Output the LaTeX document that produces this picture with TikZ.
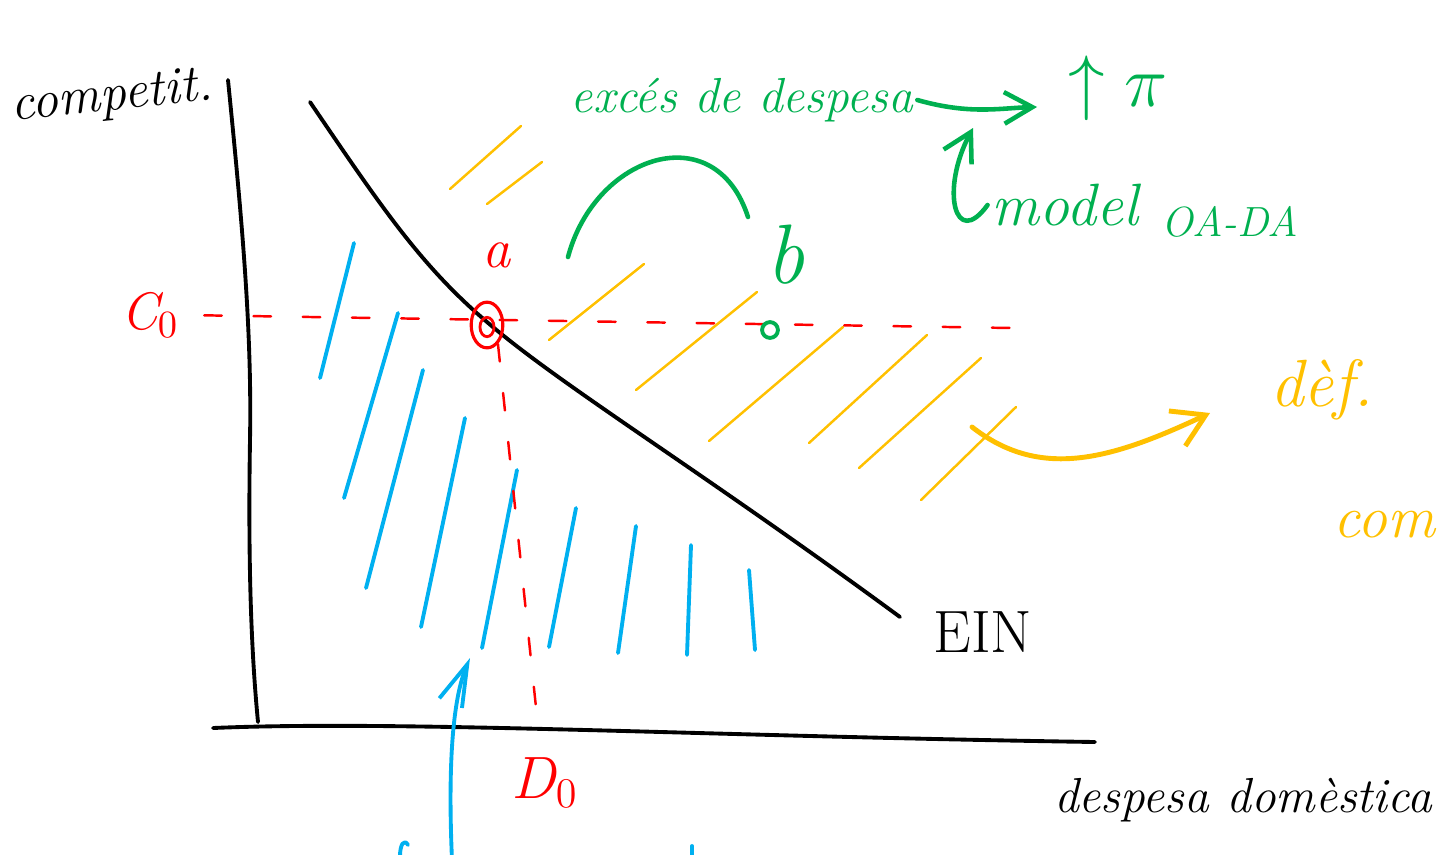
\documentclass[tikz,border=0pt]{standalone}
\usepackage{tikz}
\usetikzlibrary{arrows.meta,shapes.geometric}
\definecolor{penred}{RGB}{255,0,0}
\definecolor{penblue}{RGB}{0,176,240}
\definecolor{penorange}{RGB}{255,192,0}
\definecolor{pengreen}{RGB}{0,176,80}
\newcommand{\hand}[1]{\fontsize{#1}{#1}\selectfont\itshape}

\begin{document}
\begin{tikzpicture}[x=0.01cm, y=-0.01cm, line cap=round, line join=round,
    every node/.style={inner sep=1pt},
    ink/.style={black, line width=1.1pt},
    redink/.style={penred, line width=0.7pt, dash pattern=on 5pt off 9pt},
    bluehatch/.style={penblue, line width=1.1pt},
    orhatch/.style={penorange, line width=0.7pt},
    orink/.style={penorange, line width=1.4pt},
    greenink/.style={pengreen, line width=1.3pt},
    barb/.style={-{Straight Barb[length=8pt, width=9pt]}}]
      \useasboundingbox (0,0) rectangle (1443,854);
      \clip (0,0) rectangle (1443,854);
      % Axes
      \draw[ink] (228,80) .. controls (242,220) and (252,330) .. (250,440) .. controls (248,560) and (251,650) .. (258,722);
      \draw[ink] (213,728) .. controls (400,720) and (700,736) .. (1095,742);
      \node[font={\hand{15}}, rotate=6] (comp) at (112,98) {competit.};
      \node[font={\hand{14}}] (desp) at (1243,800) {despesa domèstica};
      % EIN curve
      \draw[ink] (310,102) .. controls (380,205) and (420,265) .. (487,322) .. controls (560,385) and (700,470) .. (900,617);
      \node[font={\fontsize{17}{17}\selectfont}] (ein) at (983,632) {EIN};
      % Blue hatching under the curve
      \foreach \xa/\ya/\xb/\yb in {354/243/320/378, 398/313/344/498, 423/370/366/588,
          465/418/421/627, 517/470/482/648, 576/508/549/647, 636/526/618/653,
          691/545/687/655, 749/570/755/650} {
        \draw[bluehatch] (\xa,\ya) -- (\xb,\yb);
      }
      % Orange hatching over the curve
      \foreach \xa/\ya/\xb/\yb in {521/126/450/189, 542/162/487/204, 644/264/549/340,
          757/292/636/390, 843/327/709/441, 927/335/809/443, 981/358/859/468,
          1016/407/921/500} {
        \draw[orhatch] (\xa,\ya) -- (\xb,\yb);
      }
      % Point a and its guides
      \node[draw=penred, ellipse, line width=0.9pt, minimum width=9pt, minimum height=13pt] (pa) at (487,325) {};
      \node[draw=penred, ellipse, line width=0.8pt, minimum width=4pt, minimum height=5.5pt] (pain) at (487,327) {};
      \node[penred, font={\hand{16}}] (la) at (497,255) {a};
      \node[penred, font={\hand{15}}] (c0) at (150,315) {C$_0$};
      \node[penred, font={\hand{17}}] (d0) at (545,783) {D$_0$};
      \coordinate (hend) at (1012,328);
      \coordinate (vend) at (537,717);
      \draw[redink, shorten <=6pt] (c0.east) -- (hend);
      \draw[redink] (pa.-60) -- (vend);
      % Point b
      \node[draw=pengreen, circle, line width=1.1pt, minimum size=4.5pt] (pb) at (770,330) {};
      \node[pengreen, font={\hand{24}}] (lb) at (785,255) {b};
      \draw[greenink] (568,257) .. controls (595,155) and (715,115) .. (748,217);
      % Green notes
      \node[pengreen, font={\hand{14}}] (exc) at (742,100) {excés de despesa};
      \node[pengreen, font={\fontsize{20}{20}\selectfont}] (pi) at (1118,88) {$\uparrow\pi$};
      \coordinate (pitip) at (1037,107);
      \draw[greenink, barb] (exc.east) .. controls (970,115) and (1000,108) .. (pitip);
      \node[pengreen, font={\hand{17}}] (model) at (1065,205) {model};
      \node[pengreen, font={\hand{12}}] (oada) at (1230,222) {OA-DA};
      \coordinate (hooktip) at (973,128);
      \draw[greenink, barb] (model.west) .. controls (955,250) and (940,190) .. (hooktip);
      % Orange: deficit
      \node[penorange, font={\hand{19}}] (def) at (1322,390) {dèf.};
      \node[penorange, font={\hand{17}}] (com) at (1384,525) {com};
      \coordinate (ortail) at (972,427);
      \coordinate (ortip) at (1210,413);
      \draw[orink, -{Straight Barb[length=9pt, width=11pt]}] (ortail) .. controls (1040,480) and (1110,460) .. (ortip);
      % Blue arrow from below
      \coordinate (bluetail) at (452,860);
      \coordinate (bluetip) at (470,658);
      \draw[bluehatch, -{Straight Barb[length=12pt, width=7pt]}] (bluetail) .. controls (448,770) and (452,700) .. (bluetip);
      \draw[bluehatch] (400,856) .. controls (400,845) and (404,838) .. (408,845);
      \draw[bluehatch] (692,846) -- (692,856);
    \end{tikzpicture}
\end{document}
